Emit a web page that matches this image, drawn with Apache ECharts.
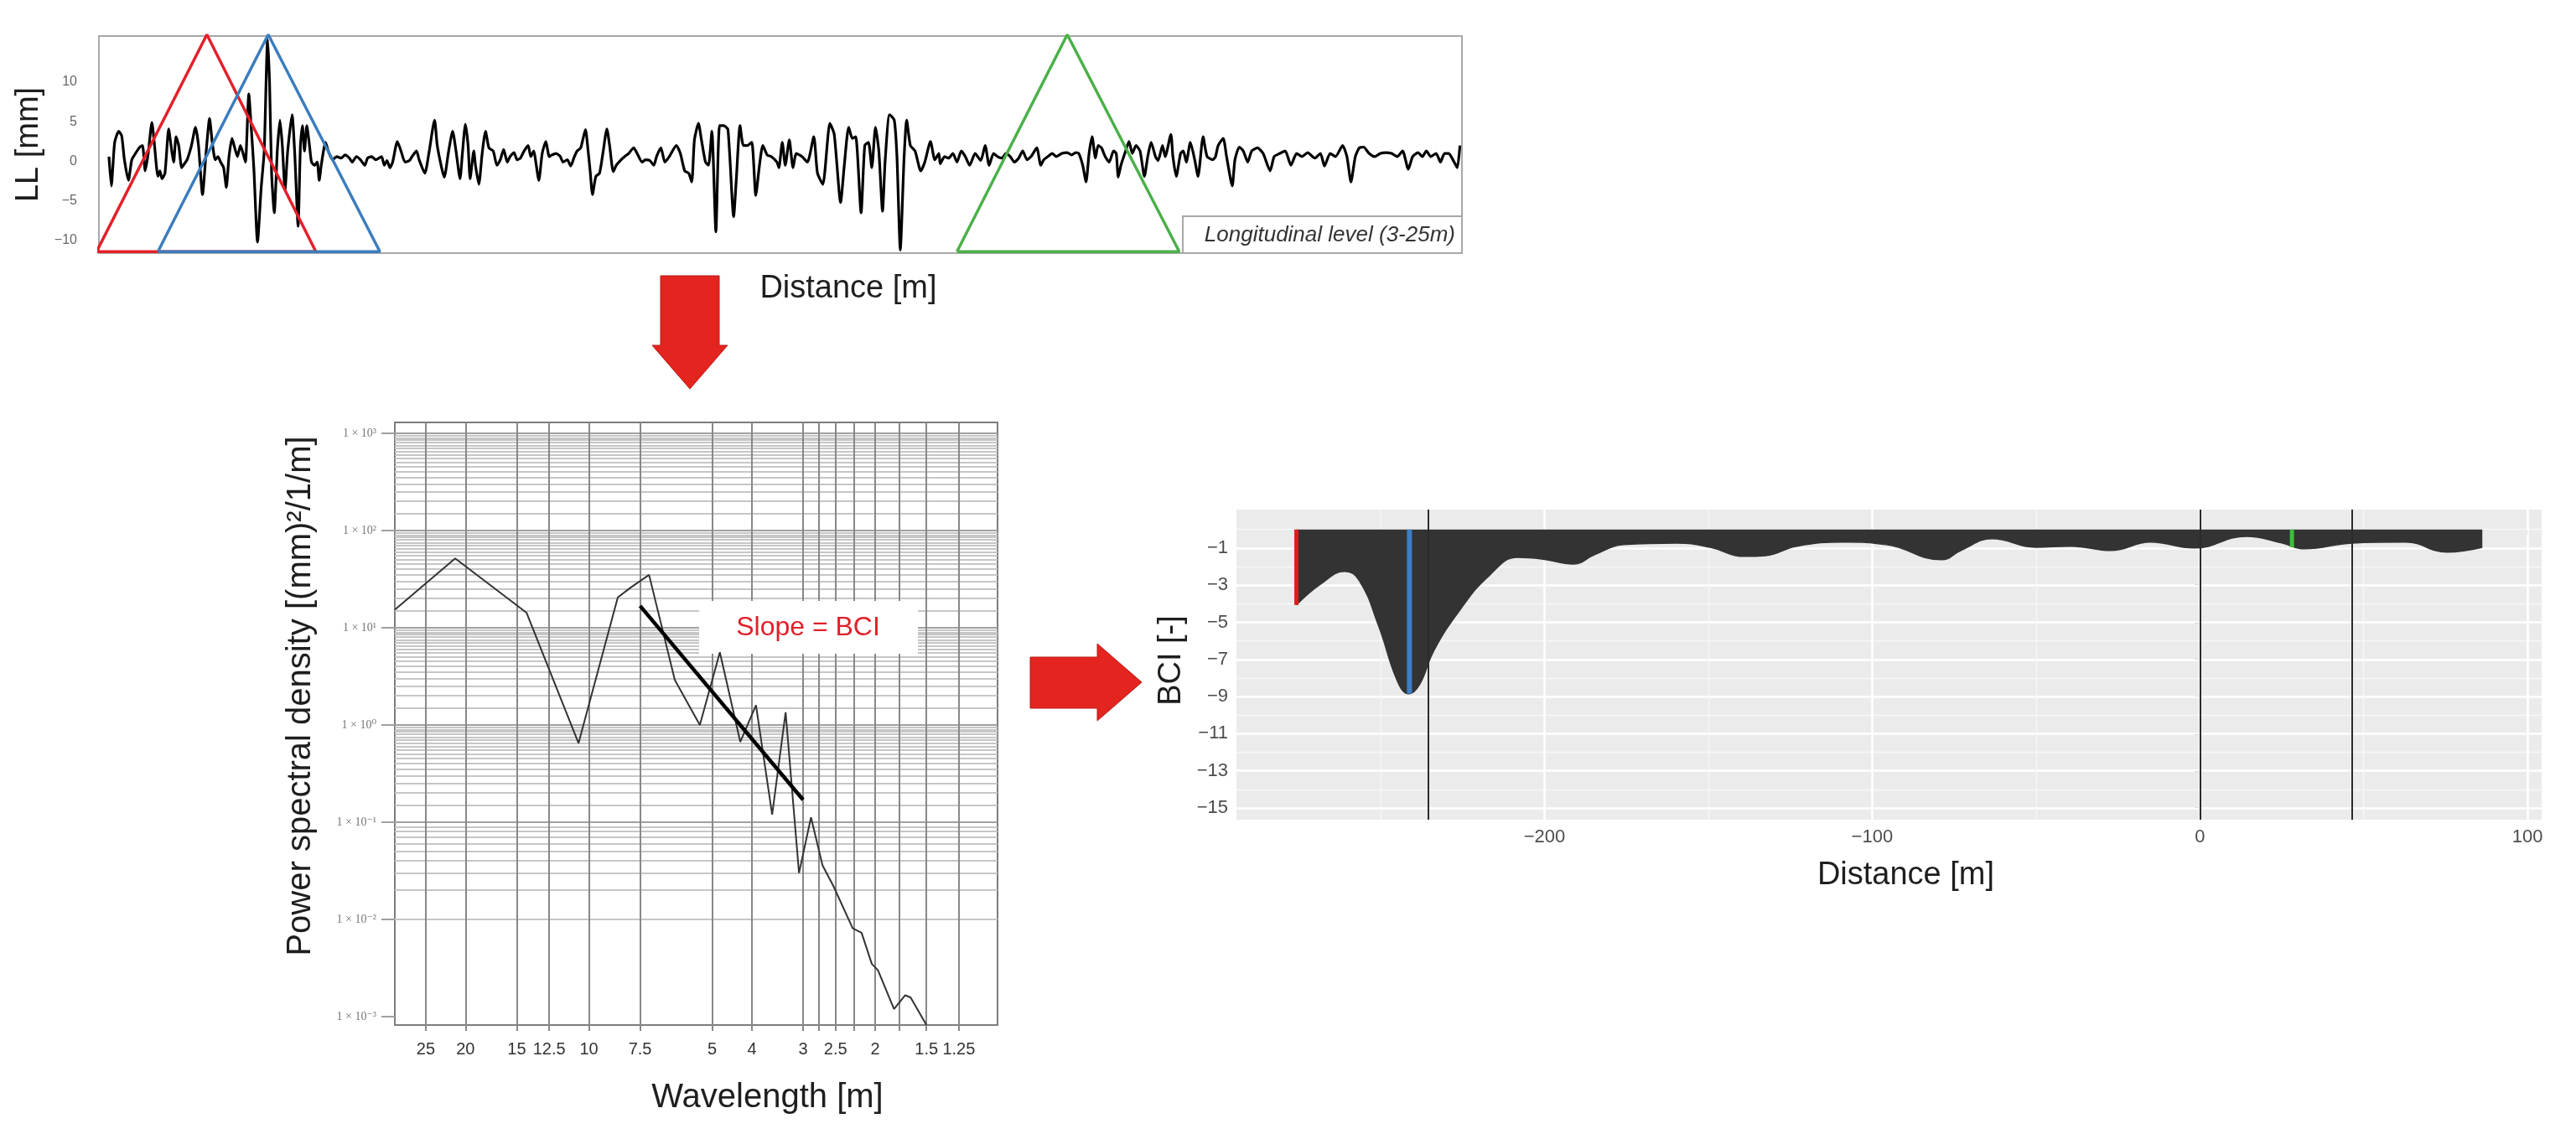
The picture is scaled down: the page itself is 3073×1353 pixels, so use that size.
<!DOCTYPE html>
<html><head><meta charset="utf-8">
<script src="https://cdn.jsdelivr.net/npm/echarts@6/dist/echarts.min.js"></script>
<style>html,body{margin:0;padding:0;background:#fff}#c{width:3073px;height:1353px}</style>
</head><body><div id="c"></div>
<script>
// ---------- Top: longitudinal level signal ----------
const llDist = [3.0,3.7,4.7,5.9,6.8,7.6,8.8,9.8,10.9,12.2,13.0,13.8,14.7,15.8,16.5,17.6,18.2,18.8,19.7,20.8,21.5,22.3,23.0,23.8,24.7,25.5,26.3,27.6,28.8,29.7,30.9,32.0,33.0,33.8,34.7,35.5,36.3,37.2,38.0,38.8,39.7,40.5,41.3,42.2,43.0,43.7,44.7,45.5,46.2,47.3,48.4,49.3,50.3,50.9,51.5,52.3,53.2,54.0,54.7,55.5,56.3,57.6,58.4,59.4,60.1,60.7,61.3,62.0,62.8,63.4,64.3,65.1,65.7,66.3,67.6,68.4,69.7,70.9,72.2,73.4,74.7,75.5,76.8,78.0,79.3,80.1,81.3,82.6,
84.3,85.1,85.9,86.8,87.6,89.0,90.1,91.3,92.6,93.4,94.7,95.5,97.2,98.4,100.1,100.9,102.2,103.0,104.3,105.5,106.5,107.7,108.4,109.3,110.1,110.7,111.8,112.3,113.3,114.3,115.3,116.3,117.6,118.7,119.7,120.7,121.8,122.6,123.8,124.7,125.7,126.8,128.0,128.8,129.7,130.3,131.2,132.2,133.3,134.3,135.1,136.3,137.6,138.4,139.7,140.7,141.8,142.6,143.7,145.1,145.9,146.5,147.2,148.2,149.3,150.3,151.5,152.3,153.4,154.3,155.5,156.8,158.0,159.5,160.5,162.0,163.0,164.3,
165.5,166.3,167.6,168.8,170.1,172.2,173.4,174.7,175.9,176.8,177.6,178.8,179.7,180.9,181.8,182.8,184.0,185.1,186.3,187.6,189.3,190.1,191.2,192.2,193.4,194.7,195.9,197.0,198.0,199.3,200.5,202.2,202.8,203.8,204.7,205.9,207.0,208.0,209.7,211.3,213.2,214.3,215.9,218.0,219.3,221.2,222.3,223.6,224.7,225.7,227.3,228.4,229.5,230.5,231.6,232.6,233.7,234.5,235.8,237.2,238.0,239.0,240.1,240.9,242.0,243.4,245.1,246.3,248.0,249.3,250.5,
250.9,252.2,253.4,254.7,255.9,257.2,258.4,259.7,261.3,263.0,264.3,265.5,266.8,268.0,269.3,270.5,271.8,273.0,274.3,275.5,276.8,278.0,279.7,280.9,281.8,283.0,284.3,285.5,287.2,288.8,290.1,291.3,292.2,293.4,294.4,295.3,296.2,297.2,298.0,299.0,300.1,301.3,302.6,303.4,304.0,304.8,306.2,307.2,308.2,309.3,310.5,311.8,312.8,313.8,315.1,315.9,317.2,318.0,319.7,320.3,321.3,322.6,323.4,324.3,325.5,326.8,327.8,329.3,330.5,332.2,333.0,
333.8,335.3,336.3,338.0,338.8,340.1,341.3,342.6,343.8,345.5,347.2,349.3,350.5,352.2,353.8,355.5,357.2,358.8,360.5,362.6,364.3,365.5,367.2,368.8,370.9,372.2,373.4,374.7,375.9,377.2,378.8,380.5,382.2,383.8,385.5,387.2,388.8,390.5,391.8,393.4,394.7,395.9,397.2,398.8,400.1,401.3,402.6,403.8,405.1,405.9];
const llVal = [0.6,-3.1,2.4,3.8,3.2,0.2,-2.4,0.2,1.0,1.8,2.0,-1.2,1.0,4.9,2.4,-1.9,-1.2,-2.2,-1.5,4.1,2.0,-0.1,3.1,2.0,-0.8,-0.3,0.2,2.0,4.3,2.0,-4.2,1.3,5.4,2.4,0.2,0.6,-0.1,-0.8,-3.3,0.6,2.9,1.7,0.6,2.0,1.0,-0.1,8.5,3.8,-0.8,-10.2,-3.3,1.3,15.4,9.8,-1.5,-6.5,1.3,5.2,2.0,-3.6,1.3,5.9,1.0,-8.2,2.0,4.5,1.3,4.5,2.0,-0.1,-0.5,-0.1,-2.4,-0.5,2.4,1.3,0.2,0.6,0.4,0.8,0.4,-0.1,0.6,0.2,-0.5,0.4,0.6,0.2,
0.6,-0.5,0.1,-0.8,-0.1,2.5,1.3,-0.1,0.1,0.6,1.3,0.2,-1.5,1.0,5.2,2.0,-0.8,-2.0,1.3,3.8,1.3,-2.2,1.0,4.7,2.0,-2.2,1.3,-0.5,-2.9,1.0,3.8,1.7,1.3,-0.5,0.2,1.5,-0.1,0.6,1.1,0.2,0.4,1.3,2.0,0.6,1.3,-0.1,-2.4,1.0,2.5,0.6,0.8,1.0,0.6,-0.1,0.2,-0.6,0.6,1.3,1.7,4.0,1.3,-1.2,-4.2,-1.9,-1.5,1.0,4.1,2.0,-1.3,-0.5,0.1,0.6,1.0,1.7,1.0,-0.1,0.2,0.1,
-0.5,0.6,1.7,-0.1,0.6,2.0,1.0,-1.2,-1.5,-2.6,2.7,4.8,2.7,-0.1,-0.5,3.8,-8.9,4.5,4.5,4.0,-7.0,-2.2,4.5,2.0,2.0,2.4,-4.3,-0.5,2.0,0.8,0.6,-0.1,-0.8,2.4,-0.5,2.7,-0.8,1.0,0.6,-0.1,3.1,-1.5,-2.9,4.8,3.4,-5.2,-0.5,4.3,2.9,3.1,-6.5,2.0,2.4,-0.8,4.3,1.3,-6.3,0.2,5.9,5.2,0.6,-11.2,0.2,5.2,2.0,1.3,-1.2,-0.1,2.5,0.2,1.0,
-0.3,0.6,0.4,1.0,-0.1,1.3,0.6,-0.5,1.0,0.1,2.0,-0.5,1.0,0.6,0.4,1.0,0.6,-0.1,0.4,1.3,0.2,0.6,1.7,-0.5,0.2,0.6,1.0,0.6,1.0,1.1,0.8,1.1,1.0,-0.5,-2.6,1.0,3.1,0.4,2.0,1.7,0.6,-0.1,1.3,1.0,-2.0,-0.5,1.3,2.5,1.0,2.0,1.3,-1.9,0.6,2.4,0.6,0.1,2.0,0.6,3.4,0.6,-1.9,1.0,1.3,-0.1,2.4,0.2,-1.9,3.1,0.6,0.2,0.6,
2.0,2.9,0.6,-3.1,0.2,1.8,1.3,-0.1,1.3,1.7,1.0,-1.2,0.6,1.0,1.3,-0.5,1.0,0.6,1.1,0.4,1.0,-0.6,1.0,0.6,2.0,0.6,-2.6,0.6,1.7,1.8,1.0,0.6,1.0,1.1,1.0,0.6,1.3,-1.0,0.6,1.1,0.6,1.3,0.6,1.0,-0.1,1.0,1.0,0.2,-0.8,2.0];
const llTicks = [-10, -5, 0, 5, 10];
// analysis windows (triangles): [start, apex, end] in m
const redWin = [-0.7, 32.2, 64.7];
const blueWin = [17.6, 50.5, 83.8];
const greenWin = [255.9, 288.8, 322.2];
const winBase = -11.4, winApex = 16.0;

// ---------- Middle: PSD ----------
const psdWavelength = [29.76,21.2,14.2,10.6,8.5,7.9,7.13,6.17,5.36,4.79,4.27,3.91,3.57,3.31,3.07,2.87,2.69,2.53,2.27,2.16,2.04,1.97,1.80,1.69,1.64,1.5];
const psdValue = [15.3,51.7,14.3,0.65,20.5,26,35,2.9,1.0,5.6,0.67,1.6,0.12,1.35,0.03,0.112,0.036,0.022,0.0081,0.0073,0.0035,0.003,0.0012,0.00166,0.00158,0.00082];
const fitWavelength = [7.5, 3.0];
const fitValue = [16.8, 0.17];
const psdLabelWl = [25,20,15,12.5,10,7.5,5,4,3,2.5,2,1.5,1.25];
const psdGridWl = [25,20,15,12.5,10,7.5,5,4,3,2.75,2.5,2.25,2,1.75,1.5,1.25];
const psdDecades = [0.001,0.01,0.1,1,10,100,1000];

// ---------- Right: BCI ----------
const bciDist = [-275.7,-268.3,-260.9,-256.5,-250.6,-244.8,-241.4,-238.1,-233.8,-225.6,-216.9,-208.2,-200.8,-191.1,-184.7,-175.8,-159.6,-149.4,-139.1,-132.5,-123,-108.2,-95.7,-78.8,-72.9,-63.4,-50.1,-39.4,-27.1,-15.1,-1.8,14.3,25,31.9,46.5,62.7,75.4,86.2];
const bciVal = [-4.06,-2.94,-2.26,-2.76,-5.2,-8.2,-8.85,-8.35,-6.54,-4.29,-2.49,-1.5,-1.59,-1.86,-1.36,-0.82,-0.73,-0.96,-1.45,-1.41,-0.9,-0.68,-0.82,-1.63,-1.13,-0.5,-0.96,-0.9,-1.13,-0.68,-1.0,-0.37,-0.73,-1.04,-0.73,-0.68,-1.22,-0.96];
const bciYTicks = [-15,-13,-11,-9,-7,-5,-3,-1];
const bciYMinor = [-14,-12,-10,-8,-6,-4,-2,0];
const bciXTicks = [-200,-100,0,100];
const bciXMinor = [-250,-150,-50,50];
const bciMarkRed = [-275.7, -4.06];
const bciMarkBlue = [-241.2, -8.85];
const bciMarkGreen = [28.1, -0.96];
const bciSectionLines = [-235.5, 0, 46.5];

// ---------- build ----------
const SANS = '"Liberation Sans", Arial, sans-serif';
const zip = (a, b) => a.map((v, i) => [v, b[i]]);
const minus = v => (v < 0 ? '\u2212' + (-v) : String(v));
const SUP = {'0':'\u2070','1':'\u00b9','2':'\u00b2','3':'\u00b3','-':'\u207b'};
const psdFmt = v => { const e = Math.round(Math.log10(v)); return '1 \u00d7 10' + String(e).split('').map(c => SUP[c]).join(''); };
const tri = w => [[w[0], winBase], [w[1], winApex], [w[2], winBase], [w[0], winBase]];

const psdHLines = [];
for (let n = -4; n <= 3; n++) {
  for (let k = 1; k < 10; k += 0.5) {
    const v = k * Math.pow(10, n);
    if (v >= 0.00082 && v <= 1294) {
      psdHLines.push({yAxis: v, lineStyle: k === 1 ? {color:'#a0a0a0', width:2.2, type:'solid'} : {color:'#c6c6c6', width:2, type:'solid'}});
    }
  }
}
const psdVLines = psdGridWl.map(w => ({xAxis: w, lineStyle:{color:'#888888', width:2, type:'solid'}}));
const bciGrid = [].concat(
  bciYTicks.map(v => ({yAxis: v, lineStyle:{color:'#ffffff', width:2.6, type:'solid'}})),
  bciYMinor.map(v => ({yAxis: v, lineStyle:{color:'#f7f7f7', width:1.3, type:'solid'}})),
  bciXTicks.map(v => ({xAxis: v, lineStyle:{color:'#ffffff', width:2.6, type:'solid'}})),
  bciXMinor.map(v => ({xAxis: v, lineStyle:{color:'#f7f7f7', width:1.3, type:'solid'}}))
);

const chart = echarts.init(document.getElementById('c'), null, {renderer:'canvas', width:3073, height:1353});
const option = {
  animation: false,
  backgroundColor: '#ffffff',
  textStyle: {fontFamily: SANS},
  grid: [
    {left:118, top:43, width:1626, height:259, show:true, borderColor:'#a8a8a8', borderWidth:2, backgroundColor:'#fff', containLabel:false, outerBoundsMode:'none'},
    {left:471, top:504, width:719, height:719, show:true, borderColor:'#7c7c7c', borderWidth:2, backgroundColor:'#fff', containLabel:false, outerBoundsMode:'none'},
    {left:1475, top:608, width:1557, height:370, show:true, borderWidth:0, backgroundColor:'#ebebeb', containLabel:false, outerBoundsMode:'none'}
  ],
  xAxis: [
    {gridIndex:0, type:'value', min:0, max:406.5, axisLine:{show:false}, axisTick:{show:false}, axisLabel:{show:false}, splitLine:{show:false},
     name:'Distance [m]', nameLocation:'middle', nameGap:24, nameTextStyle:{fontSize:38, color:'#1e1e1e', fontFamily:SANS, padding:[0,0,0,162]}},
    {gridIndex:1, type:'log', logBase:10, inverse:true, min:1.006, max:29.76, axisLine:{show:false}, splitLine:{show:false},
     axisTick:{show:true, customValues:psdGridWl, length:7, lineStyle:{color:'#888', width:2}},
     axisLabel:{customValues:psdLabelWl, formatter: v => String(+(+v).toFixed(2)), fontSize:20, color:'#333', margin:19, fontFamily:SANS},
     name:'Wavelength [m]', nameLocation:'middle', nameGap:67, nameTextStyle:{fontSize:40, color:'#1e1e1e', fontFamily:SANS, padding:[0,0,0,170]}},
    {gridIndex:2, type:'value', min:-294, max:104.3, axisLine:{show:false}, splitLine:{show:false},
     axisTick:{show:true, customValues:bciXTicks, length:6, lineStyle:{color:'#444', width:1.5}},
     axisLabel:{customValues:bciXTicks, formatter:minus, fontSize:22, color:'#4d4d4d', margin:10, fontFamily:SANS},
     name:'Distance [m]', nameLocation:'middle', nameGap:48, nameTextStyle:{fontSize:38, color:'#1e1e1e', fontFamily:SANS, padding:[0,0,0,40]}}
  ],
  yAxis: [
    {gridIndex:0, type:'value', min:-11.59, max:15.82, axisLine:{show:false}, axisTick:{show:false}, splitLine:{show:false},
     axisLabel:{customValues:llTicks, formatter:minus, fontSize:16, color:'#666', margin:26, fontFamily:SANS},
     name:'LL [mm]', nameLocation:'middle', nameGap:58, nameTextStyle:{fontSize:38, color:'#1e1e1e', fontFamily:SANS}},
    {gridIndex:1, type:'log', logBase:10, min:0.00082, max:1294, axisLine:{show:false}, splitLine:{show:false},
     axisTick:{show:true, customValues:psdDecades, length:16, lineStyle:{color:'#a0a0a0', width:2}},
     axisLabel:{customValues:psdDecades, formatter:psdFmt, fontSize:14, color:'#777', margin:22, fontFamily:'"Liberation Serif", "DejaVu Serif", serif'},
     name:'Power spectral density [(mm)\u00b2/1/m]', nameLocation:'middle', nameGap:92, nameTextStyle:{fontSize:40, color:'#1e1e1e', fontFamily:SANS, padding:[0,0,0,66]}},
    {gridIndex:2, type:'value', min:-15.63, max:1.07, axisLine:{show:false}, splitLine:{show:false},
     axisTick:{show:true, customValues:bciYTicks, length:6, lineStyle:{color:'#444', width:1.5}},
     axisLabel:{customValues:bciYTicks, formatter:minus, fontSize:22, color:'#4d4d4d', margin:10, fontFamily:SANS},
     name:'BCI [-]', nameLocation:'middle', nameGap:39, nameTextStyle:{fontSize:38, color:'#1e1e1e', fontFamily:SANS, padding:[0,0,0,10]}}
  ],
  series: [
    // top
    {type:'line', xAxisIndex:0, yAxisIndex:0, data:zip(llDist, llVal), symbol:'none', smooth:0.2, z:3,
     lineStyle:{color:'#000', width:3.2}},
    {type:'line', xAxisIndex:0, yAxisIndex:0, data:tri(redWin), symbol:'none', clip:false, z:4, lineStyle:{color:'#e3202a', width:3.5}},
    {type:'line', xAxisIndex:0, yAxisIndex:0, data:tri(blueWin), symbol:'none', clip:false, z:4, lineStyle:{color:'#3b7dbd', width:3.5}},
    {type:'line', xAxisIndex:0, yAxisIndex:0, data:tri(greenWin), symbol:'none', clip:false, z:4, lineStyle:{color:'#4bb04a', width:3.5}},
    // PSD grid host (invisible)
    {type:'line', xAxisIndex:1, yAxisIndex:1, data:zip(psdWavelength, psdValue), symbol:'none', z:1, silent:true,
     lineStyle:{opacity:0},
     markLine:{z:1, silent:true, symbol:['none','none'], label:{show:false}, animation:false, data: psdHLines.concat(psdVLines)}},
    // PSD curve
    {type:'line', xAxisIndex:1, yAxisIndex:1, data:zip(psdWavelength, psdValue), symbol:'none', z:3,
     lineStyle:{color:'#333', width:2}},
    // fitted slope
    {type:'line', xAxisIndex:1, yAxisIndex:1, data:zip(fitWavelength, fitValue), symbol:'none', z:4,
     lineStyle:{color:'#000', width:4.5}},
    // BCI grid host
    {type:'line', xAxisIndex:2, yAxisIndex:2, data:zip(bciDist, bciVal), symbol:'none', z:1, silent:true,
     lineStyle:{opacity:0},
     markLine:{z:1, silent:true, symbol:['none','none'], label:{show:false}, animation:false, data: bciGrid}},
    // BCI area
    {type:'line', xAxisIndex:2, yAxisIndex:2, data:zip(bciDist, bciVal), symbol:'none', smooth:0.45, z:3,
     lineStyle:{color:'#333333', width:1.5}, areaStyle:{color:'#333333', opacity:1}},
    // window markers
    {type:'line', xAxisIndex:2, yAxisIndex:2, data:[[bciMarkRed[0],0],[bciMarkRed[0],bciMarkRed[1]]], symbol:'none', z:4, lineStyle:{color:'#e41a1c', width:5}},
    {type:'line', xAxisIndex:2, yAxisIndex:2, data:[[bciMarkBlue[0],0],[bciMarkBlue[0],bciMarkBlue[1]]], symbol:'none', z:4, lineStyle:{color:'#3d7fc4', width:6}},
    {type:'line', xAxisIndex:2, yAxisIndex:2, data:[[bciMarkGreen[0],0],[bciMarkGreen[0],bciMarkGreen[1]]], symbol:'none', z:4, lineStyle:{color:'#3cbf3c', width:5}},
    // section lines
    {type:'line', xAxisIndex:2, yAxisIndex:2, data:[], symbol:'none', z:5,
     markLine:{z:6, silent:true, symbol:['none','none'], label:{show:false}, animation:false,
       data: bciSectionLines.map(v => ({xAxis: v, lineStyle:{color:'#2b2b2b', width:2, type:'solid'}}))}}
  ],
  graphic: [
    {type:'rect', z:10, shape:{x:1411, y:258, width:333, height:44}, style:{fill:'#fff', stroke:'#a8a8a8', lineWidth:2}},
    {type:'text', z:11, x:1736, y:281, style:{text:'Longitudinal level (3-25m)', fill:'#333', font:'italic 26px "Liberation Sans", Arial, sans-serif', textAlign:'right', textVerticalAlign:'middle'}},
    {type:'rect', z:2, shape:{x:834, y:717, width:261, height:63}, style:{fill:'#fff'}},
    {type:'text', z:2, x:964, y:749, style:{text:'Slope = BCI', fill:'#e0202a', font:'32px "Liberation Sans", Arial, sans-serif', textAlign:'center', textVerticalAlign:'middle'}},
    {type:'polygon', z:10, shape:{points:[[788,329],[858,329],[858,412],[868,412],[823,464],[778,412],[788,412]]}, style:{fill:'#e3241f', stroke:'#b81c18', lineWidth:1}},
    {type:'polygon', z:10, shape:{points:[[1229,784],[1309,784],[1309,768],[1362,814],[1309,860],[1309,845],[1229,845]]}, style:{fill:'#e3241f', stroke:'#b81c18', lineWidth:1}}
  ]
};
chart.setOption(option);
</script>
</body></html>
